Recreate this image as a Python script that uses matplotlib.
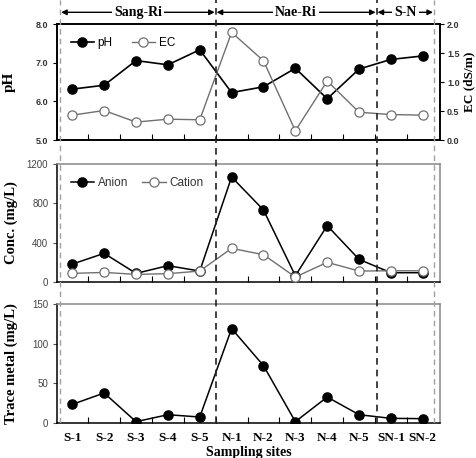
import numpy as np
import matplotlib
matplotlib.use("Agg")
import matplotlib.pyplot as plt

# ─────────────────────────────────────────────
# Data
# ─────────────────────────────────────────────
sites = ["S-1", "S-2", "S-3", "S-4", "S-5", "N-1", "N-2", "N-3", "N-4", "N-5", "SN-1", "SN-2"]

ph = [6.32, 6.42, 7.06, 6.95, 7.34, 6.23, 6.38, 6.86, 6.07, 6.84, 7.09, 7.18]
ec = [0.43, 0.51, 0.31, 0.36, 0.35, 1.86, 1.37, 0.16, 1.02, 0.48, 0.44, 0.43]

anion = [180, 290, 85, 164, 109, 1070, 733, 61, 573, 228, 92, 92]
cation = [85, 95, 75, 82, 109, 341, 276, 48, 198, 109, 112, 112]

trace_metal = [23.2, 37.6, 1.3, 10.1, 7.2, 119.2, 72.3, 1.3, 32.5, 10.1, 5.5, 5.1]

regions = ["Sang-Ri", "Nae-Ri", "S-N"]
region_bounds = [-0.38, 4.5, 9.55, 11.35]

x = np.arange(len(sites))
XLIM = (-0.47, 11.54)

SERIF = "Liberation Serif"
SANS = "Liberation Sans"
GRAY = "#707070"
MS = 6.6

fig = plt.figure(figsize=(4.76, 4.58), dpi=100)

L, W = 0.1204, 0.804
ax1 = fig.add_axes([L, 0.6943, W, 0.2526])
ax2 = fig.add_axes([L, 0.3849, W, 0.2564])
ax3 = fig.add_axes([L, 0.0771, W, 0.2585])


def style_x(ax, labels=False):
    ax.set_xlim(*XLIM)
    ax.set_xticks(x)
    ax.set_xticks(x[:-1] + 0.5, minor=True)
    ax.tick_params(axis="x", which="major", length=0)
    ax.tick_params(axis="x", which="minor", direction="in", length=4, width=0.8)
    if labels:
        ax.set_xticklabels(sites, fontfamily=SERIF, fontweight="bold", fontsize=9.5)
        ax.tick_params(axis="x", which="major", pad=7)
    else:
        ax.set_xticklabels([])


# ── Panel 1: pH / EC ──
ax1.plot(x, ph, "-o", color="black", lw=1.2, ms=MS, mfc="black", mec="black", label="pH")
ax1r = ax1.twinx()
ax1r.set_position(ax1.get_position())
ax1r.plot(x, ec, "-o", color=GRAY, lw=1.0, ms=MS, mfc="white", mec=GRAY, mew=0.9, label="EC")
ax1.set_ylim(5, 8)
ax1.set_yticks([5, 6, 7, 8])
ax1.set_yticklabels(["5.0", "6.0", "7.0", "8.0"])
ax1r.set_ylim(0, 2)
ax1r.set_yticks([0, 0.5, 1.0, 1.5, 2.0])
ax1r.set_yticklabels(["0.0", "0.5", "1.0", "1.5", "2.0"])
for a in (ax1, ax1r):
    for lab in a.get_yticklabels():
        lab.set_fontfamily(SANS)
        lab.set_fontweight("bold")
        lab.set_fontsize(6.5)
        lab.set_color("#333333")
    for sp in a.spines.values():
        sp.set_linewidth(1.2)
ax1.tick_params(axis="y", direction="out", length=3)
ax1r.tick_params(axis="y", direction="out", length=3, pad=2)
style_x(ax1)
ax1.set_ylabel("pH", fontfamily=SERIF, fontweight="bold", fontsize=11, labelpad=14)
ax1r.set_ylabel("EC (dS/m)", fontfamily=SERIF, fontweight="bold", fontsize=9.5, labelpad=3)
h1, l1 = ax1.get_legend_handles_labels()
h2, l2 = ax1r.get_legend_handles_labels()
ax1.legend(h1 + h2, l1 + l2, loc="upper left", ncol=2, frameon=False,
           prop={"family": SANS, "size": 8.5}, handlelength=2.0, handletextpad=0.3,
           columnspacing=1.6, bbox_to_anchor=(0.01, 0.97), borderaxespad=0.4)

# ── Panel 2: Anion / Cation ──
ax2.plot(x, anion, "-o", color="black", lw=1.1, ms=MS, mfc="black", mec="black", label="Anion", zorder=3)
ax2.plot(x, cation, "-o", color=GRAY, lw=1.0, ms=MS, mfc="white", mec=GRAY, mew=0.9, label="Cation", zorder=4)
ax2.set_ylim(0, 1200)
ax2.set_yticks([0, 400, 800, 1200])
style_x(ax2)
ax2.set_ylabel("Conc. (mg/L)", fontfamily=SERIF, fontweight="bold", fontsize=10.5, labelpad=6)
ax2.legend(loc="upper left", ncol=2, frameon=False, prop={"family": SANS, "size": 8.5},
           labelcolor="#333333", handlelength=2.0, handletextpad=0.3, columnspacing=1.2,
           bbox_to_anchor=(0.01, 0.97), borderaxespad=0.4)

# ── Panel 3: Trace metal ──
ax3.plot(x, trace_metal, "-o", color="black", lw=1.1, ms=MS, mfc="black", mec="black")
ax3.set_ylim(0, 150)
ax3.set_yticks([0, 50, 100, 150])
style_x(ax3, labels=True)
ax3.set_ylabel("Trace metal (mg/L)", fontfamily=SERIF, fontweight="bold", fontsize=10.5, labelpad=10)
ax3.set_xlabel("Sampling sites", fontfamily=SERIF, fontweight="bold", fontsize=10, labelpad=1)

for a in (ax2, ax3):
    for lab in a.get_yticklabels():
        lab.set_fontfamily(SANS)
        lab.set_fontsize(7)
        lab.set_color("#444444")
    a.tick_params(axis="y", direction="out", length=3, color="#555555")
    a.spines["top"].set_color("#888888")
    a.spines["right"].set_color("#888888")
    for sp in a.spines.values():
        sp.set_linewidth(1.1)

# ── Overlay: dashed region boundaries and arrows ──
ov = fig.add_axes([L, 0.0771, W, 1 - 0.0771], facecolor="none")
ov.set_xlim(*XLIM)
ov.set_ylim(0, 1)
ov.axis("off")
for i, xb in enumerate(region_bounds):
    edge = i in (0, len(region_bounds) - 1)
    ov.axvline(xb, color="#a0a0a0" if edge else "#222222", lw=1.0 if edge else 1.2,
               ls=(0, (4, 3)), zorder=5)

y_arrow = 1 - (12.3 / 458) / (1 - 0.0771)
for name, x0, x1 in zip(regions, region_bounds[:-1], region_bounds[1:]):
    ov.annotate("", xy=(x0 + 0.03, y_arrow), xytext=(x1 - 0.03, y_arrow),
                arrowprops=dict(arrowstyle="<|-|>", color="black", lw=1.0,
                                mutation_scale=8, shrinkA=0, shrinkB=0))
    ov.text((x0 + x1) / 2, y_arrow, name, ha="center", va="center",
            fontfamily=SERIF, fontweight="bold", fontsize=10,
            bbox=dict(facecolor="white", edgecolor="none", pad=1.5))

fig.savefig("out.png", dpi=100)
